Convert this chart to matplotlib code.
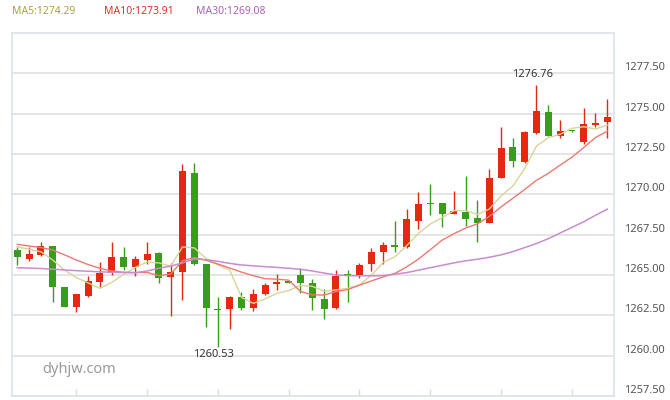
import matplotlib
matplotlib.use("Agg")
from matplotlib import pyplot as plt

# candle data
opens = [1266.55, 1266.00, 1266.24, 1266.79, 1264.23, 1263.03, 1263.71, 1264.58, 1265.14, 1266.13,
         1265.51, 1265.93, 1266.38, 1264.85, 1265.20, 1271.34, 1265.66, 1262.91, 1262.87, 1263.65,
         1262.93, 1263.80, 1264.42, 1264.55, 1265.00, 1264.48, 1263.51, 1262.97, 1265.04, 1265.00,
         1265.66, 1266.40, 1266.86, 1266.71, 1268.34, 1269.48, 1269.44, 1268.78, 1268.92, 1268.51,
         1268.24, 1271.03, 1272.91, 1271.98, 1273.82, 1275.12, 1273.61, 1273.95, 1273.26, 1274.30,
         1274.46]
closes = [1266.10, 1266.28, 1266.81, 1264.27, 1263.03, 1263.80, 1264.64, 1265.10, 1266.13, 1265.51,
          1265.97, 1266.30, 1264.83, 1265.16, 1271.46, 1265.66, 1262.97, 1262.83, 1263.65, 1262.93,
          1263.82, 1264.38, 1264.54, 1264.53, 1264.48, 1263.55, 1262.87, 1264.95, 1264.98, 1265.62,
          1266.44, 1266.86, 1266.75, 1268.45, 1269.38, 1269.38, 1268.78, 1268.97, 1268.45, 1268.20,
          1271.03, 1272.85, 1272.08, 1273.84, 1275.16, 1273.61, 1273.92, 1273.90, 1274.36, 1274.44,
          1274.77]
highs = [1266.75, 1266.75, 1267.02, 1266.80, 1264.25, 1263.85, 1264.95, 1265.82, 1267.02, 1266.75,
         1266.18, 1267.02, 1266.40, 1265.76, 1271.88, 1271.96, 1265.70, 1263.65, 1263.70, 1263.96,
         1264.11, 1264.52, 1265.04, 1264.57, 1265.41, 1264.73, 1264.11, 1265.31, 1265.31, 1265.76,
         1266.65, 1267.06, 1268.36, 1269.07, 1270.12, 1270.64, 1269.46, 1270.22, 1271.13, 1269.65,
         1271.57, 1274.19, 1273.51, 1273.90, 1276.76, 1275.54, 1274.61, 1273.97, 1275.33, 1275.02,
         1275.89]
lows = [1265.60, 1265.86, 1266.18, 1263.34, 1263.00, 1262.68, 1263.65, 1264.27, 1265.00, 1265.31,
        1264.94, 1265.68, 1264.48, 1262.46, 1263.45, 1265.60, 1261.79, 1260.53, 1261.63, 1262.83,
        1262.77, 1263.79, 1264.07, 1264.50, 1263.86, 1262.83, 1262.25, 1262.87, 1263.34, 1264.79,
        1265.25, 1265.68, 1266.44, 1266.70, 1267.83, 1268.72, 1267.95, 1268.80, 1268.03, 1267.06,
        1268.20, 1271.00, 1271.71, 1271.95, 1273.74, 1273.60, 1273.47, 1273.88, 1273.12, 1274.15,
        1273.47]

ma5 = [1266.75, 1266.59, 1266.44, 1265.93, 1265.30, 1264.84, 1264.51, 1264.17, 1264.54, 1265.04,
       1265.47, 1265.80, 1265.75, 1265.55, 1266.74, 1266.68, 1266.02, 1265.62, 1265.31, 1263.61,
       1263.24, 1263.52, 1263.86, 1264.04, 1264.35, 1264.30, 1263.99, 1264.08, 1264.17, 1264.39,
       1264.97, 1265.77, 1266.13, 1266.82, 1267.58, 1268.16, 1268.55, 1268.99, 1268.99, 1268.76,
       1269.09, 1269.90, 1270.52, 1271.60, 1272.99, 1273.51, 1273.72, 1274.09, 1274.19, 1274.05,
       1274.29]
ma10 = [1266.90, 1266.80, 1266.70, 1266.55, 1266.25, 1265.93, 1265.65, 1265.41, 1265.25, 1265.17,
        1265.15, 1265.16, 1264.96, 1265.05, 1265.89, 1266.08, 1265.91, 1265.68, 1265.43, 1265.18,
        1264.96, 1264.77, 1264.74, 1264.68, 1263.98, 1263.77, 1263.76, 1263.97, 1264.10, 1264.37,
        1264.63, 1264.88, 1265.10, 1265.50, 1265.99, 1266.57, 1267.16, 1267.56, 1267.91, 1268.17,
        1268.63, 1269.22, 1269.76, 1270.30, 1270.87, 1271.30, 1271.81, 1272.30, 1272.90, 1273.52,
        1273.91]
ma30 = [1265.45, 1265.43, 1265.40, 1265.36, 1265.31, 1265.27, 1265.23, 1265.20, 1265.17, 1265.15,
        1265.14, 1265.25, 1265.42, 1265.55, 1265.75, 1266.00, 1265.95, 1265.85, 1265.72, 1265.62,
        1265.57, 1265.52, 1265.47, 1265.42, 1265.35, 1265.25, 1265.12, 1265.00, 1264.96, 1264.95,
        1264.95, 1264.96, 1265.05, 1265.15, 1265.30, 1265.45, 1265.60, 1265.75, 1265.88, 1265.98,
        1266.10, 1266.25, 1266.45, 1266.70, 1266.95, 1267.25, 1267.60, 1267.95, 1268.30, 1268.70,
        1269.08]

price_ticks = [1257.5, 1260.0, 1262.5, 1265.0, 1267.5, 1270.0, 1272.5, 1275.0, 1277.5]
x_ticks = [5, 11, 17, 23, 29, 35, 41, 47]

RED = "#e3290f"
GREEN = "#3a9c1c"

fig = plt.figure(figsize=(6.7, 4.0), dpi=100)
ax = fig.add_axes([12 / 670, 4 / 400, 602 / 670, 363 / 400])

idx = list(range(len(opens)))
colors = [RED if c > o else GREEN for o, c in zip(opens, closes)]
bottoms = [min(o, c) for o, c in zip(opens, closes)]
heights = [max(abs(c - o), 0.07) for o, c in zip(opens, closes)]

ax.vlines(idx, lows, highs, colors=colors, linewidth=1, zorder=3)
ax.bar(idx, heights, bottom=bottoms, width=0.6, color=colors, linewidth=0, zorder=4)

ax.plot(idx, ma5, color="#d8d49a", linewidth=1, zorder=5)
ax.plot(idx, ma10, color="#ea7a72", linewidth=1, zorder=5)
ax.plot(idx, ma30, color="#c98ccf", linewidth=1.1, zorder=5)

# max / min labels
ax.annotate("1276.76", (44, 1276.76), xytext=(-3, 4), textcoords="offset points",
            ha="center", va="bottom", fontsize=8, color="#333333", family="Noto Sans")
ax.annotate("1260.53", (17, 1260.53), xytext=(-3, -1), textcoords="offset points",
            ha="center", va="top", fontsize=8, color="#333333", family="Noto Sans")

ax.set_xlim(-0.45, 50.57)
ax.set_ylim(1257.5, 1280.0)
ax.set_yticks(price_ticks)
ax.set_yticklabels([f"{p:.2f}" for p in price_ticks])
ax.yaxis.tick_right()
ax.tick_params(axis="y", length=0, pad=7, labelsize=8, labelcolor="#555555")
for lbl in ax.get_yticklabels():
    lbl.set_va("bottom")
    lbl.set_family("Noto Sans")
ax.set_xticks(x_ticks)
ax.set_xticklabels([])
ax.tick_params(axis="x", direction="in", length=5, color="#d5dbe3", width=1)
ax.grid(axis="y", color="#e3e3e3", linewidth=1.3, zorder=0)
for s in ax.spines.values():
    s.set_color("#dde2ea")
    s.set_linewidth(1.2)

ax.text(0.05, 0.072, "dyhjw.com", transform=ax.transAxes, fontsize=10.5,
        color="#9a9a9a", family="Noto Sans", va="center")

fig.text(12 / 670, 1 - 12 / 400, "MA5:1274.29", color="#a8a43c", fontsize=7.5,
         family="Noto Sans", va="center")
fig.text(104 / 670, 1 - 12 / 400, "MA10:1273.91", color="#e8302a", fontsize=7.5,
         family="Noto Sans", va="center")
fig.text(196 / 670, 1 - 12 / 400, "MA30:1269.08", color="#b060b8", fontsize=7.5,
         family="Noto Sans", va="center")

plt.savefig("out.png", dpi=100)
